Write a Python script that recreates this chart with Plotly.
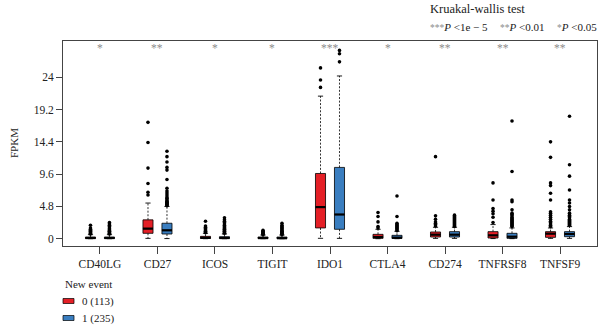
import plotly.graph_objects as go

# ---------------- data ----------------
genes = ["CD40LG", "CD27", "ICOS", "TIGIT", "IDO1", "CTLA4", "CD274", "TNFRSF8", "TNFSF9"]
sig = ["*", "**", "*", "*", "***", "*", "**", "**", "**"]
group_names = ["0 (113)", "1 (235)"]
y_ticks = [0, 4.8, 9.6, 14.4, 19.2, 24]
y_tick_text = ["0", "4.8", "9.6", "14.4", "19.2", "24"]

# group 0 (red)
g0_lo = [0.0, 0.05, 0.0, 0.0, 0.06, 0.0, 0.05, 0.02, 0.05]
g0_q1 = [0.03, 0.8, 0.03, 0.02, 1.6, 0.05, 0.25, 0.1, 0.2]
g0_med = [0.1, 1.5, 0.12, 0.1, 4.7, 0.25, 0.6, 0.5, 0.75]
g0_q3 = [0.25, 2.8, 0.35, 0.25, 9.7, 0.65, 1.0, 1.05, 1.05]
g0_hi = [0.6, 5.3, 0.8, 0.55, 21.2, 1.4, 1.7, 2.1, 1.6]
g0_out = [
    [0.7, 0.8, 0.9, 1.0, 1.1, 1.25, 1.4, 1.6, 2.0],
    [6.5, 6.9, 8.2, 10.5, 14.3, 17.3],
    [0.9, 1.0, 1.1, 1.2, 1.35, 1.5, 1.7, 1.9, 2.6],
    [0.6, 0.7, 0.8, 0.9, 1.0, 1.1, 1.25],
    [22.5, 23.6, 25.4],
    [1.6, 1.8, 2.5, 3.3, 3.9],
    [1.9, 2.1, 2.3, 2.5, 2.9, 3.4, 12.2],
    [2.4, 3.2, 3.7, 4.1, 4.5, 5.75, 8.3],
    [1.8, 2.0, 2.2, 2.4, 2.6, 2.9, 3.2, 3.5, 3.8, 4.0, 5.75, 6.75, 7.9, 8.3, 12.1, 14.4],
]

# group 1 (blue)
g1_lo = [0.0, 0.02, 0.0, 0.0, 0.05, 0.0, 0.05, 0.01, 0.05]
g1_q1 = [0.03, 0.7, 0.03, 0.02, 1.4, 0.04, 0.25, 0.05, 0.3]
g1_med = [0.1, 1.25, 0.1, 0.08, 3.6, 0.15, 0.6, 0.3, 0.7]
g1_q3 = [0.25, 2.3, 0.3, 0.25, 10.6, 0.5, 1.05, 0.8, 1.05]
g1_hi = [0.6, 4.8, 0.7, 0.55, 24.2, 1.1, 1.7, 1.6, 1.8]
g1_out = [
    [0.7, 0.8, 0.9, 1.0, 1.1, 1.2, 1.3, 1.45, 1.6, 1.8, 2.0, 2.2, 2.4],
    [4.9, 5.0, 5.1, 5.2, 5.3, 5.4, 5.5, 5.6, 5.8, 6.0, 6.2, 6.5, 6.8, 7.1, 7.5, 8.8, 10.2, 10.6, 11.4, 12.2, 13.0],
    [0.8, 0.9, 1.0, 1.1, 1.2, 1.3, 1.4, 1.5, 1.65, 1.8, 2.0, 2.2, 2.4, 2.6, 2.8, 3.1],
    [0.6, 0.7, 0.8, 0.9, 1.0, 1.1, 1.2, 1.35, 1.5, 1.65, 1.8, 2.0, 2.3],
    [26.3, 27.5, 28.0],
    [1.2, 1.35, 1.5, 1.65, 1.8, 1.95, 2.1, 2.3, 3.3, 6.35],
    [1.8, 1.95, 2.1, 2.25, 2.4, 2.55, 2.7, 2.85, 3.0, 3.15, 3.3, 3.5],
    [1.8, 1.95, 2.1, 2.25, 2.4, 2.55, 2.7, 2.85, 3.0, 3.2, 3.4, 3.6, 3.8, 4.3, 5.5, 5.75, 10.0, 17.5],
    [2.0, 2.15, 2.3, 2.45, 2.6, 2.75, 2.9, 3.1, 3.3, 3.5, 3.8, 4.3, 4.8, 5.3, 5.75, 7.25, 9.3, 11.0, 18.2],
]

# ---------------- style ----------------
FONT = "Liberation Serif, DejaVu Serif, serif"
TXT = "#222222"
STAR = "#8c8c8c"
colors = ["#E41F26", "#3A7EC0"]
offsets = [-0.165, 0.165]
BOX_W = 0.175
CAP_HW = 0.045
W, H = 600, 329
ML, MR, MT, MB = 63, 3, 41, 83

groups = [
    (g0_lo, g0_q1, g0_med, g0_q3, g0_hi, g0_out),
    (g1_lo, g1_q1, g1_med, g1_q3, g1_hi, g1_out),
]

fig = go.Figure()
idx = list(range(len(genes)))

for gi, (lo, q1, med, q3, hi, outs) in enumerate(groups):
    pos = [i + offsets[gi] for i in idx]
    # dashed whiskers
    wx, wy = [], []
    for p, a, b, c, d in zip(pos, lo, q1, q3, hi):
        wx += [p, p, None, p, p, None]
        wy += [c, d, None, b, a, None]
    fig.add_trace(go.Scatter(x=wx, y=wy, mode="lines",
                             line=dict(color="black", width=0.8, dash="2px,1.6px"),
                             showlegend=False, hoverinfo="skip"))
    # staples
    cx, cy = [], []
    for p, a, d in zip(pos, lo, hi):
        cx += [p - CAP_HW, p + CAP_HW, None, p - CAP_HW, p + CAP_HW, None]
        cy += [d, d, None, a, a, None]
    fig.add_trace(go.Scatter(x=cx, y=cy, mode="lines",
                             line=dict(color="black", width=0.9),
                             showlegend=False, hoverinfo="skip"))
    # boxes
    fig.add_trace(go.Box(x=pos, q1=q1, median=med, q3=q3,
                         lowerfence=q1, upperfence=q3,
                         width=BOX_W, whiskerwidth=0,
                         fillcolor=colors[gi],
                         line=dict(color="black", width=0.8),
                         boxpoints=False, name=group_names[gi],
                         showlegend=False, hoverinfo="skip"))
    # thick medians
    mx, my = [], []
    for p, m in zip(pos, med):
        mx += [p - BOX_W / 2, p + BOX_W / 2, None]
        my += [m, m, None]
    fig.add_trace(go.Scatter(x=mx, y=my, mode="lines",
                             line=dict(color="black", width=2.2),
                             showlegend=False, hoverinfo="skip"))
    # outliers
    ox, oy = [], []
    for p, o in zip(pos, outs):
        ox += [p] * len(o)
        oy += o
    fig.add_trace(go.Scatter(x=ox, y=oy, mode="markers",
                             marker=dict(color="black", size=3.6),
                             showlegend=False, hoverinfo="skip"))

# significance stars
for i, s in zip(idx, sig):
    fig.add_annotation(x=i, y=28.3, text=s, showarrow=False,
                       font=dict(family=FONT, size=11.5, color=STAR),
                       xanchor="center", yanchor="middle")

PW, PH = W - ML - MR, H - MT - MB


def px(xp):
    return (xp - ML) / PW


def py(yp):
    return (H - MB - yp) / PH


# Kruskal-wallis header
fig.add_annotation(xref="paper", yref="paper", x=px(428), y=py(9),
                   text="Kruakal-wallis test", showarrow=False,
                   xanchor="left", yanchor="middle",
                   font=dict(family=FONT, size=12.5, color=TXT))
leg_items = [("***", "<i>P</i> &lt;1e − 5", 428, "left"),
             ("**", "<i>P</i> &lt;0.01", 498, "left"),
             ("*", "<i>P</i> &lt;0.05", 599, "right")]
for st, t, xp, anc in leg_items:
    fig.add_annotation(xref="paper", yref="paper", x=px(xp), y=py(27),
                       text=f"<span style='color:{STAR};font-size:9.5px'>{st}</span>{t}",
                       showarrow=False, xanchor=anc, yanchor="middle",
                       font=dict(family=FONT, size=11, color=TXT))

# y axis title
fig.add_annotation(xref="paper", yref="paper", x=px(14), y=py(143),
                   text="FPKM", textangle=-90, showarrow=False,
                   xanchor="center", yanchor="middle",
                   font=dict(family=FONT, size=11, color=TXT))

# custom legend (bottom left)
fig.add_annotation(xref="paper", yref="paper", x=px(63), y=py(284),
                   text="New event", showarrow=False, xanchor="left", yanchor="middle",
                   font=dict(family=FONT, size=11, color=TXT))
for gi, name in enumerate(group_names):
    yc = 301 + gi * 17
    fig.add_shape(type="rect", xref="paper", yref="paper",
                  x0=px(63), x1=px(74), y0=py(yc - 2.5), y1=py(yc + 2.5),
                  fillcolor=colors[gi], line=dict(color="black", width=0.7))
    fig.add_annotation(xref="paper", yref="paper", x=px(80), y=py(yc),
                       text=name, showarrow=False, xanchor="left", yanchor="middle",
                       font=dict(family=FONT, size=11, color=TXT))

fig.update_layout(
    width=W, height=H,
    margin=dict(l=ML, r=MR, t=MT, b=MB, pad=0),
    paper_bgcolor="white", plot_bgcolor="white",
    font=dict(family=FONT, size=11, color=TXT),
    boxmode="overlay",
)
fig.update_xaxes(range=[-0.643, 8.643], tickmode="array", tickvals=idx, ticktext=genes,
                 ticks="outside", ticklen=7, tickwidth=0.8, tickcolor="#444",
                 showline=True, mirror=True, linecolor="#444", linewidth=0.9,
                 showgrid=False, zeroline=False,
                 tickfont=dict(family=FONT, size=11.5, color=TXT))
fig.update_yaxes(range=[-1.085, 29.4], tickmode="array", tickvals=y_ticks, ticktext=y_tick_text,
                 ticks="outside", ticklen=6, tickwidth=0.8, tickcolor="#444",
                 showline=True, mirror=True, linecolor="#444", linewidth=0.9,
                 showgrid=False, zeroline=False,
                 tickfont=dict(family=FONT, size=11.5, color=TXT))

fig.write_html("out.html")
